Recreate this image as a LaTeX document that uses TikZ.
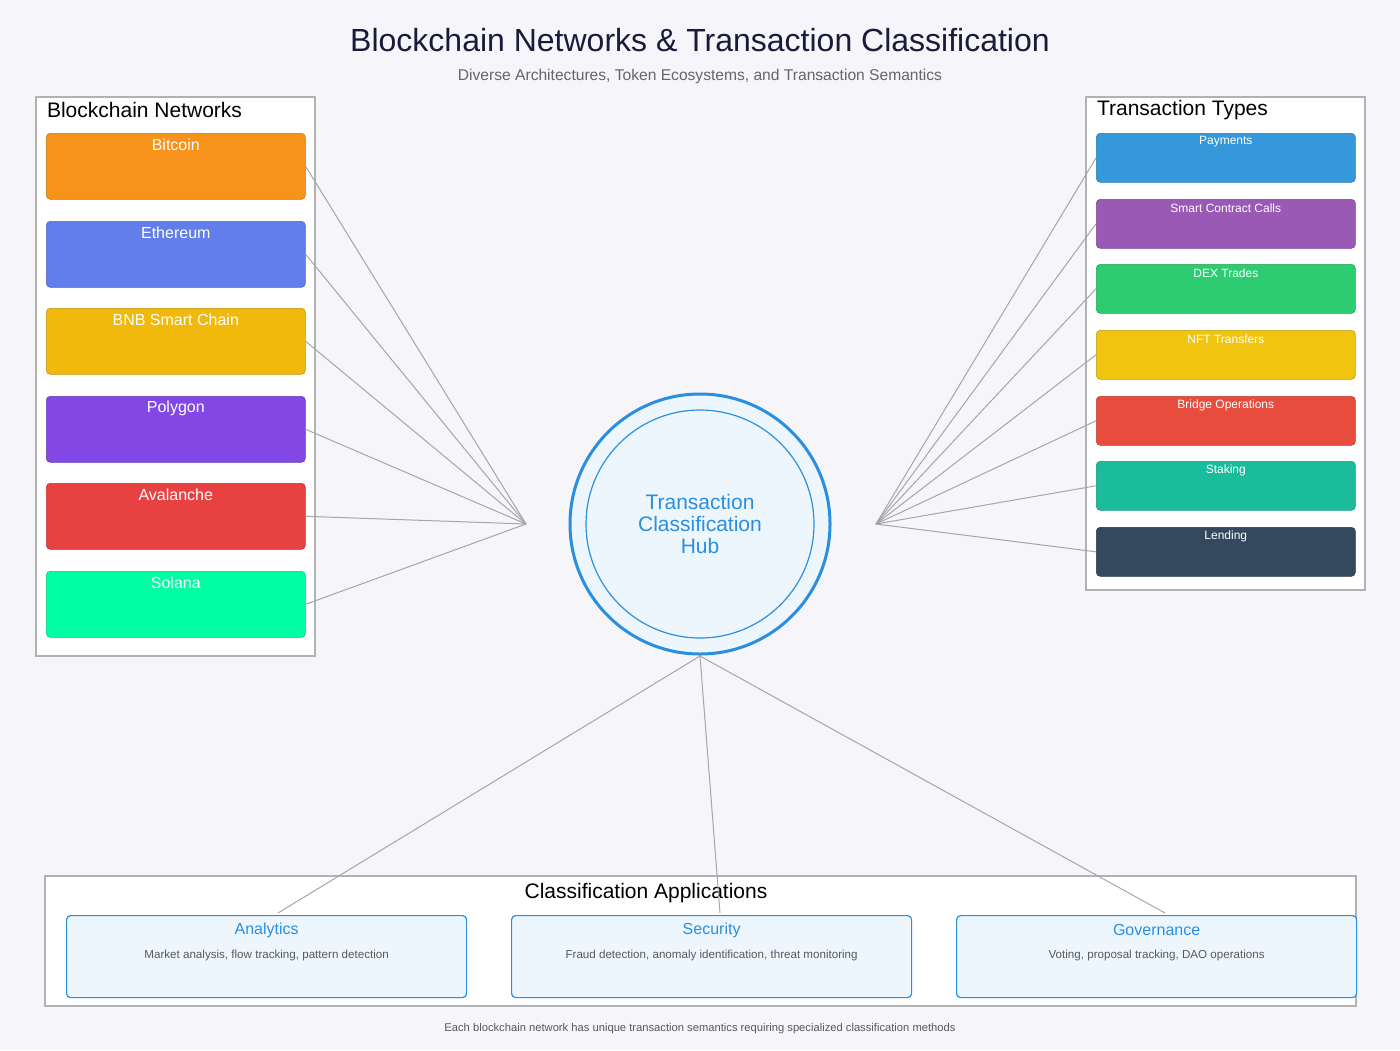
\documentclass[tikz,border=0pt]{standalone}
\usepackage{fontspec}
\setmainfont{Liberation Sans}
\usetikzlibrary{positioning}
\definecolor{bgcol}{HTML}{F5F5FA}
\definecolor{navy}{HTML}{1A1A3A}
\definecolor{hubblue}{HTML}{2A8FE0}
\definecolor{hubfill}{HTML}{EEF6FD}
\tikzset{
  panel/.style={draw=black!30, fill=white, line width=0.6pt},
  net/.style={rounded corners=2pt, draw=#1!80!black, fill=#1, line width=0.3pt,
    minimum width=129.5pt, minimum height=33pt, anchor=north west,
    text=white, font=\fontsize{8}{9}\selectfont, text depth=0pt},
  txn/.style={rounded corners=2pt, draw=#1!80!black, fill=#1, line width=0.3pt,
    minimum width=129.5pt, minimum height=24.5pt, anchor=north west},
  app/.style={rounded corners=2pt, draw=hubblue, fill=hubfill, line width=0.6pt,
    minimum width=200pt, minimum height=41pt, anchor=north west},
  link/.style={draw=black!35, line width=0.5pt},
}
\begin{document}
\begin{tikzpicture}[x=0.5pt,y=-0.5pt]
  \fill[bgcol] (0,0) rectangle (1400,1050);
  \useasboundingbox (0,0) rectangle (1400,1050);

  % heading
  \node[text=navy, font=\fontsize{16}{18}\selectfont] (title) at (700,40) {Blockchain Networks \& Transaction Classification};
  \node[text=black!60, font=\fontsize{7.8}{9}\selectfont] (subtitle) at (700,76) {Diverse Architectures, Token Ecosystems, and Transaction Semantics};

  % panels
  \draw[panel] (36,97) rectangle (315,656);
  \node[anchor=west, font=\fontsize{10.5}{12}\selectfont] (netlbl) at (40,110) {Blockchain Networks};
  \draw[panel] (1086,97) rectangle (1365,590);
  \node[anchor=west, font=\fontsize{10.5}{12}\selectfont] (txlbl) at (1090,110) {Transaction Types};
  \draw[panel] (45,876) rectangle (1356,1006);
  \node[font=\fontsize{10.5}{12}\selectfont] (applbl) at (646,893) {Classification Applications};

  % hub
  \coordinate (hubL) at (526,524);
  \coordinate (hubR) at (876,524);
  \coordinate (hubB) at (700,656);

  % networks
  \foreach \name/\lbl/\col/\y in {btc/Bitcoin/F7931A/133, eth/Ethereum/627EEA/221,
      bnb/BNB Smart Chain/F0B90B/308, pol/Polygon/8247E5/396,
      avax/Avalanche/E84142/483, sol/Solana/00FFA3/571}{
    \definecolor{tmp}{HTML}{\col}
    \node[net=tmp] (\name) at (46,\y) {};
    \node[text=white, font=\fontsize{8}{9}\selectfont] at ([yshift=-6pt]\name.north) {\lbl};
    \draw[link] (\name.east) -- (hubL);
  }

  % transaction types
  \foreach \name/\lbl/\col/\y in {pay/Payments/3498DB/133, scc/Smart Contract Calls/9B59B6/199,
      dex/DEX Trades/2ECC71/264, nft/NFT Transfers/F1C40F/330,
      brg/Bridge Operations/E74C3C/396, stk/Staking/1ABC9C/461, lend/Lending/34495E/527}{
    \definecolor{tmp}{HTML}{\col}
    \node[txn=tmp] (\name) at (1096,\y) {};
    \node[text=white, font=\fontsize{6}{7}\selectfont] at ([yshift=-4.5pt]\name.north) {\lbl};
    \draw[link] (\name.west) -- (hubR);
  }

  % applications
  \foreach \name/\lbl/\desc/\x in {ana/Analytics/{Market analysis, flow tracking, pattern detection}/66,
      sec/Security/{Fraud detection, anomaly identification, threat monitoring}/511,
      gov/Governance/{Voting, proposal tracking, DAO operations}/956}{
    \node[app] (\name) at (\x,915) {};
    \node[text=hubblue, font=\fontsize{8}{9}\selectfont] (\name t) at ([yshift=-7.5pt]\name.north) {\lbl};
    \node[text=black!65, font=\fontsize{5.8}{7}\selectfont] at ([yshift=-20pt]\name.north) {\desc};
  }
  \coordinate (anaTop) at (278,913);
  \coordinate (secTop) at (720,913);
  \coordinate (govTop) at (1165,913);
  \draw[link] (hubB) -- (anaTop);
  \draw[link] (hubB) -- (secTop);
  \draw[link] (hubB) -- (govTop);

  \draw[hubblue, fill=hubfill, line width=1.5pt] (700,524) circle[radius=65pt];
  \draw[hubblue, line width=0.6pt] (700,524) circle[radius=57pt];
  \node[text=hubblue, align=center, font=\fontsize{10.5}{11}\selectfont] (hub) at (700,524) {Transaction\\Classification\\Hub};

  \node[text=black!65, font=\fontsize{5.6}{7}\selectfont] (foot) at (700,1029) {Each blockchain network has unique transaction semantics requiring specialized classification methods};
\end{tikzpicture}
\end{document}
